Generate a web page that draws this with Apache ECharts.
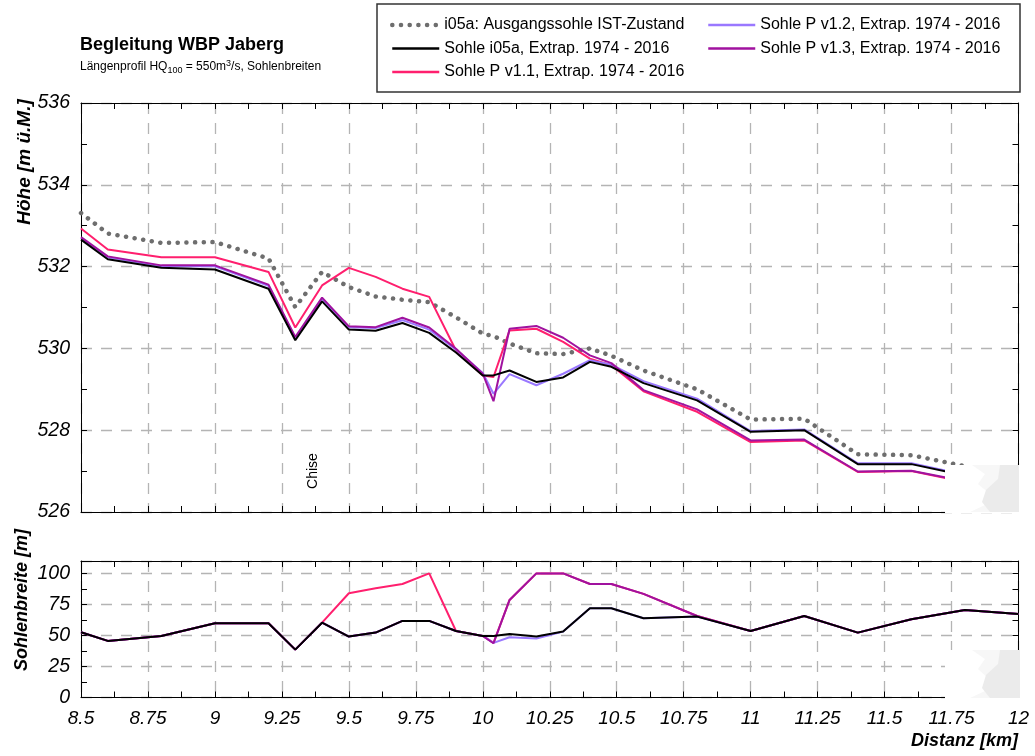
<!DOCTYPE html>
<html>
<head>
<meta charset="utf-8">
<script src="https://cdn.jsdelivr.net/npm/echarts/dist/echarts.min.js"></script>
<style>
html,body{margin:0;padding:0;background:#fff;}
#chart{width:1035px;height:756px;}
</style>
</head>
<body>
<div id="chart"></div>
<script>
// ---- data ----
const kmUpper = [8.5, 8.6, 8.8, 9.0, 9.2, 9.3, 9.4, 9.5, 9.6, 9.7, 9.8, 9.9, 10.0, 10.04, 10.1, 10.2, 10.3, 10.4, 10.48, 10.6, 10.8, 11.0, 11.2, 11.4, 11.6, 11.8];
const istSohle = [533.31, 532.81, 532.58, 532.60, 532.20, 531.01, 531.87, 531.50, 531.27, 531.19, 531.13, 530.76, 530.36, 530.30, 530.12, 529.88, 529.86, 530.00, 529.82, 529.46, 529.00, 528.26, 528.28, 527.41, 527.39, 527.12];
const sohleI05a = [532.66, 532.18, 531.97, 531.93, 531.46, 530.20, 531.15, 530.46, 530.43, 530.62, 530.38, 529.90, 529.34, 529.34, 529.46, 529.18, 529.29, 529.67, 529.55, 529.15, 528.73, 527.96, 528.00, 527.17, 527.17, 526.89];
const sohleP11 = [532.93, 532.42, 532.23, 532.23, 531.87, 530.51, 531.54, 531.97, 531.75, 531.46, 531.26, 529.95, 529.34, 529.30, 530.44, 530.48, 530.16, 529.75, 529.59, 528.95, 528.45, 527.71, 527.75, 526.98, 527.00, 526.73];
const sohleP12 = [532.70, 532.23, 532.01, 532.01, 531.53, 530.26, 531.21, 530.52, 530.50, 530.69, 530.46, 529.97, 529.40, 528.89, 529.37, 529.10, 529.38, 529.71, 529.60, 529.20, 528.77, 527.98, 528.02, 527.19, 527.19, 526.91];
const sohleP13 = [532.72, 532.25, 532.03, 532.03, 531.56, 530.28, 531.24, 530.54, 530.52, 530.75, 530.51, 529.99, 529.38, 528.71, 530.48, 530.55, 530.26, 529.83, 529.64, 528.98, 528.51, 527.75, 527.77, 526.99, 527.01, 526.75];

const kmLower = [8.5, 8.6, 8.8, 9.0, 9.2, 9.3, 9.4, 9.5, 9.6, 9.7, 9.8, 9.9, 10.0, 10.04, 10.1, 10.2, 10.3, 10.4, 10.48, 10.6, 10.8, 11.0, 11.2, 11.4, 11.6, 11.8, 12.0];
const breiteI05a = [52.6, 45.6, 49.6, 59.8, 59.8, 38.6, 60.3, 49.1, 52.3, 61.7, 61.7, 53.6, 49.6, 49.6, 51.2, 49.1, 53.1, 71.9, 71.9, 63.9, 65.2, 53.6, 65.7, 52.3, 63.0, 70.6, 67.3];
const breiteP11 = [52.6, 45.6, 49.6, 59.8, 59.8, 38.6, 60.3, 84.0, 88.0, 91.5, 100, 53.6, 49.6, 44.0, 78.6, 100, 100, 91.5, 91.5, 83.5, 65.7, 53.6, 65.7, 52.3, 63.0, 70.6, 67.3];
const breiteP12 = [52.6, 45.6, 49.6, 59.8, 59.8, 38.6, 60.3, 49.1, 52.3, 61.7, 61.7, 53.6, 49.6, 44.0, 48.5, 47.5, 53.1, 71.9, 71.9, 63.9, 65.2, 53.6, 65.7, 52.3, 63.0, 70.6, 67.3];
const breiteP13 = [52.6, 45.6, 49.6, 59.8, 59.8, 38.6, 60.3, 49.1, 52.3, 61.7, 61.7, 53.6, 49.6, 43.7, 78.6, 100, 100, 91.5, 91.5, 83.5, 65.7, 53.6, 65.7, 52.3, 63.0, 70.6, 67.3];

const names = ['i05a: Ausgangssohle IST-Zustand', 'Sohle i05a, Extrap. 1974 - 2016', 'Sohle P v1.1, Extrap. 1974 - 2016', 'Sohle P v1.2, Extrap. 1974 - 2016', 'Sohle P v1.3, Extrap. 1974 - 2016'];
const colors = ['#6e6e6e', '#000000', '#ff1f6e', '#9a78ff', '#a0129f'];

// ---- helpers ----
const FONT = '"Liberation Sans", Arial, sans-serif';
function pairs(xs, ys) { return xs.map((x, i) => [x, ys[i]]); }
const gridLine = { show: true, lineStyle: { color: '#b4b4b4', width: 1.3, type: [11, 9] } };
const dotStyle = { color: colors[0], width: 4.5, type: [0.1, 8.6], cap: 'round' };
function xAx(gi, pos, labels, split) {
  return {
    type: 'value', gridIndex: gi, position: pos, min: 8.5, max: 12, interval: 0.25,
    axisLine: { show: true, onZero: false, lineStyle: { color: '#000', width: 1 } },
    axisTick: { show: true, inside: true, length: 6, lineStyle: { color: '#000' } },
    minorTick: { show: true, splitNumber: 2, length: 6, lineStyle: { color: '#000' } },
    splitLine: split ? gridLine : { show: false },
    axisLabel: labels ? { show: true, margin: 12, color: '#000', fontSize: 19, fontStyle: 'italic', fontFamily: FONT } : { show: false }
  };
}
function yAx(gi, pos, min, max, interval, labels, split) {
  return {
    type: 'value', gridIndex: gi, position: pos, min: min, max: max, interval: interval,
    axisLine: { show: true, onZero: false, lineStyle: { color: '#000', width: 1 } },
    axisTick: { show: true, inside: true, length: 6, lineStyle: { color: '#000' } },
    minorTick: { show: true, splitNumber: 2, length: 6, lineStyle: { color: '#000' } },
    splitLine: split ? gridLine : { show: false },
    axisLabel: labels ? { show: true, margin: 11, color: '#000', fontSize: 19.5, fontStyle: 'italic', fontFamily: FONT,
      formatter: v => (v > 100 && max === 110) ? '' : String(v) } : { show: false }
  };
}
function lineSeries(idx, xi, yi, data) {
  const s = {
    type: 'line', name: names[idx], xAxisIndex: xi, yAxisIndex: yi, data: data,
    symbol: 'none', showSymbol: false, animation: false, z: 2 + idx,
    color: colors[idx],
    lineStyle: { color: colors[idx], width: 2 }
  };
  if (idx === 0) { s.lineStyle = dotStyle; s.z = 1; }
  if (idx === 1) s.z = 10;
  return s;
}
function legendItem(i) {
  return { name: names[i], lineStyle: i === 0 ? dotStyle : { color: colors[i], width: 2.5 } };
}

const chart = echarts.init(document.getElementById('chart'), null, { renderer: 'canvas' });
const legendBase = {
  orient: 'vertical', top: 16, padding: 0, itemWidth: 47, itemHeight: 14, itemGap: 5.5,
  textStyle: { fontSize: 16, color: '#000', fontFamily: FONT, lineHeight: 18 },
  itemStyle: { opacity: 0, borderWidth: 0 },
  selectedMode: false
};

chart.setOption({
  backgroundColor: '#fff',
  animation: false,
  textStyle: { fontFamily: FONT },
  title: {
    left: 80, top: 36, padding: 0, itemGap: 5,
    text: 'Begleitung WBP Jaberg',
    textStyle: { fontSize: 18, fontWeight: 'bold', color: '#000', fontFamily: FONT },
    subtext: '{n|Längenprofil HQ}{sub|100}{n| = 550m}{sup|3}{n|/s, Sohlenbreiten}',
    subtextStyle: {
      color: '#000', fontFamily: FONT, fontSize: 12,
      rich: {
        n: { fontSize: 12, color: '#000', fontFamily: FONT, lineHeight: 16 },
        sub: { fontSize: 9, color: '#000', fontFamily: FONT, lineHeight: 9, verticalAlign: 'bottom' },
        sup: { fontSize: 9, color: '#000', fontFamily: FONT, lineHeight: 9, verticalAlign: 'top' }
      }
    }
  },
  legend: [
    Object.assign({}, legendBase, { left: 390, data: [legendItem(0), legendItem(1), legendItem(2)] }),
    Object.assign({}, legendBase, { left: 707, data: [legendItem(3), legendItem(4)] })
  ],
  grid: [
    { left: 81, top: 103, width: 937.5, height: 409, outerBoundsMode: 'none', containLabel: false },
    { left: 81, top: 561, width: 937.5, height: 136.5, outerBoundsMode: 'none', containLabel: false }
  ],
  xAxis: [
    xAx(0, 'bottom', false, true),
    xAx(0, 'top', false, false),
    xAx(1, 'bottom', true, true),
    xAx(1, 'top', false, false)
  ],
  yAxis: [
    yAx(0, 'left', 526, 536, 2, true, true),
    yAx(0, 'right', 526, 536, 2, false, false),
    yAx(1, 'left', 0, 110, 25, true, true),
    yAx(1, 'right', 0, 110, 25, false, false)
  ],
  series: [
    lineSeries(0, 0, 0, pairs(kmUpper, istSohle)),
    lineSeries(2, 0, 0, pairs(kmUpper, sohleP11)),
    lineSeries(3, 0, 0, pairs(kmUpper, sohleP12)),
    lineSeries(4, 0, 0, pairs(kmUpper, sohleP13)),
    lineSeries(1, 0, 0, pairs(kmUpper, sohleI05a)),
    lineSeries(2, 2, 2, pairs(kmLower, breiteP11)),
    lineSeries(3, 2, 2, pairs(kmLower, breiteP12)),
    lineSeries(4, 2, 2, pairs(kmLower, breiteP13)),
    lineSeries(1, 2, 2, pairs(kmLower, breiteI05a))
  ],
  graphic: [
    { type: 'rect', z: 50, shape: { x: 377, y: 4, width: 643, height: 88 }, style: { fill: null, stroke: '#333', lineWidth: 1.5 } },
    { type: 'text', z: 50, x: 25, y: 162, rotation: Math.PI / 2,
      style: { text: 'Höhe [m ü.M.]', font: 'italic bold 19px ' + FONT, fill: '#000', align: 'center', verticalAlign: 'middle' } },
    { type: 'text', z: 50, x: 22, y: 600, rotation: Math.PI / 2,
      style: { text: 'Sohlenbreite [m]', font: 'italic bold 18px ' + FONT, fill: '#000', align: 'center', verticalAlign: 'middle' } },
    { type: 'text', z: 50, x: 1018, y: 741,
      style: { text: 'Distanz [km]', font: 'italic bold 18px ' + FONT, fill: '#000', align: 'right', verticalAlign: 'middle' } },
    { type: 'text', z: 50, x: 313, y: 471, rotation: Math.PI / 2,
      style: { text: 'Chise', font: '14px ' + FONT, fill: '#000', align: 'center', verticalAlign: 'middle' } },
    // watermark patches in the lower right corners
    { type: 'rect', z: 100, shape: { x: 945, y: 465, width: 75, height: 48 }, style: { fill: '#fff' } },
    { type: 'polygon', z: 101, shape: { points: [[972,465],[1019,465],[1019,512],[970,512],[985,505],[990,494],[978,484],[985,474]] }, style: { fill: '#f7f7f7' } },
    { type: 'polygon', z: 102, shape: { points: [[1000,465],[1019,465],[1019,512],[990,512],[982,502],[986,490],[998,479]] }, style: { fill: '#ebebeb' } },
    { type: 'rect', z: 100, shape: { x: 945, y: 650, width: 75, height: 49 }, style: { fill: '#fff' } },
    { type: 'polygon', z: 101, shape: { points: [[972,650],[1020,650],[1020,698],[970,698],[985,691],[990,680],[978,669],[985,659]] }, style: { fill: '#f7f7f7' } },
    { type: 'polygon', z: 102, shape: { points: [[1000,650],[1020,650],[1020,698],[990,698],[982,688],[986,675],[998,664]] }, style: { fill: '#ebebeb' } }
  ]
});
</script>
</body>
</html>
